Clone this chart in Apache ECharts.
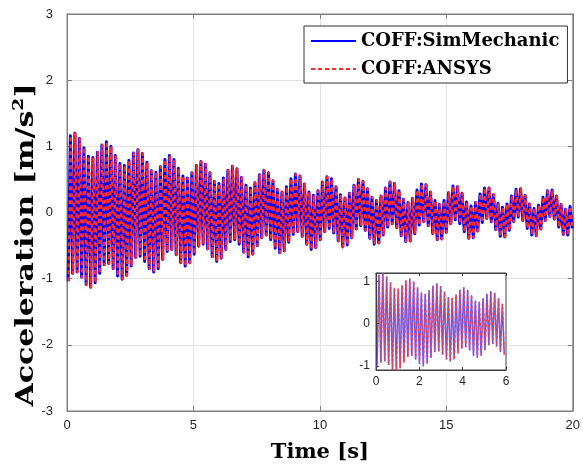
<!DOCTYPE html>
<html>
<head>
<meta charset="utf-8">
<script src="https://cdn.jsdelivr.net/npm/echarts@6/dist/echarts.min.js"></script>
<style>
html,body{margin:0;padding:0;background:#fff;}
#chart{width:583px;height:468px;}
</style>
</head>
<body>
<div id="chart"></div>
<script>
// Successive peak/trough accelerations (m/s^2)
const simPeaks = [
 -1.04, 1.16, -0.92, 1.20, -0.90, 1.12, -0.98, 0.98, -1.09, 0.85, -1.13, 0.83, -1.06, 0.91,
 -0.92, 1.02, -0.79, 1.07, -0.77, 1.00, -0.85, 0.86, -0.96, 0.74, -1.01, 0.71, -0.95, 0.79,
 -0.81, 0.90, -0.68, 0.95, -0.66, 0.89, -0.74, 0.76, -0.85, 0.63, -0.90, 0.61, -0.85, 0.69,
 -0.71, 0.80, -0.59, 0.86, -0.56, 0.80, -0.64, 0.67, -0.76, 0.55, -0.81, 0.52, -0.76, 0.60,
 -0.63, 0.71, -0.51, 0.77, -0.48, 0.73, -0.55, 0.60, -0.67, 0.47, -0.74, 0.44, -0.69, 0.52,
 -0.56, 0.64, -0.44, 0.70, -0.41, 0.66, -0.48, 0.53, -0.60, 0.41, -0.67, 0.37, -0.63, 0.45,
 -0.50, 0.57, -0.38, 0.64, -0.34, 0.60, -0.41, 0.48, -0.54, 0.35, -0.61, 0.31, -0.58, 0.39,
 -0.45, 0.51, -0.33, 0.58, -0.29, 0.55, -0.36, 0.43, -0.48, 0.31, -0.56, 0.26, -0.53, 0.33,
 -0.41, 0.46, -0.29, 0.54, -0.24, 0.51, -0.31, 0.39, -0.43, 0.27, -0.52, 0.22, -0.49, 0.29,
 -0.38, 0.41, -0.25, 0.50, -0.20, 0.47, -0.27, 0.36, -0.39, 0.23, -0.48, 0.18, -0.46, 0.25,
 -0.34, 0.37, -0.22, 0.46, -0.17, 0.44, -0.23, 0.33, -0.35, 0.20, -0.44, 0.15, -0.43, 0.21,
 -0.32, 0.34, -0.19, 0.43, -0.14, 0.42, -0.20, 0.31, -0.32, 0.18, -0.41, 0.12, -0.40, 0.18,
 -0.30, 0.30, -0.17, 0.40, -0.11, 0.39, -0.17, 0.29, -0.29, 0.16, -0.39, 0.10, -0.38, 0.15,
 -0.28, 0.28, -0.15, 0.37, -0.09, 0.37, -0.14, 0.27, -0.26, 0.14, -0.36, 0.08, -0.37, 0.13,
 -0.27, 0.25, -0.14, 0.35, -0.07, 0.36, -0.12, 0.26, -0.24, 0.13, -0.34, 0.06, -0.35, 0.11,
 -0.25, 0.23, -0.12, 0.33, -0.06, 0.34, -0.10, 0.25, -0.22, 0.12, -0.33, 0.05, -0.34, 0.09, -0.24
];
// Sampling grid of the peaks (s)
const firstPeakTime = 0.0445;
const halfPeriod = 0.089;
const ansysTimeLag = 0.015;

const seriesNames = ['COFF:SimMechanic', 'COFF:ANSYS'];
const mainXTicks = [0, 5, 10, 15, 20];
const mainYTicks = [-3, -2, -1, 0, 1, 2, 3];
const insetXTicks = [0, 2, 4, 6];
const insetYTicks = [-1, 0, 1];

const simData = simPeaks.map((v, i) => [firstPeakTime + i * halfPeriod, v]);
const ansysData = simPeaks.map((v, i) => [firstPeakTime + ansysTimeLag + i * halfPeriod, v]);
const insetMax = insetXTicks[insetXTicks.length - 1];
const simInset = simData.filter(p => p[0] <= insetMax);
const ansysInset = ansysData.filter(p => p[0] <= insetMax);

const axisGray = '#7f7f7f';
const tickText = '#262626';
const serif = '"DejaVu Serif", serif';
const sans = '"Liberation Sans", Arial, sans-serif';

const chart = echarts.init(document.getElementById('chart'), null, {renderer: 'canvas'});
chart.setOption({
  animation: false,
  backgroundColor: '#fff',
  grid: [
    {left: 67, right: 8, top: 14, bottom: 57, show: true, borderColor: axisGray, borderWidth: 1, backgroundColor: 'transparent'},
    {left: 376, right: 77, top: 273, bottom: 98, show: true, borderColor: '#404040', borderWidth: 1, backgroundColor: '#fff', z: 10}
  ],
  graphic: [{
    type: 'text',
    x: 27, y: 245,
    rotation: Math.PI / 2,
    scaleX: 1.25,
    z: 30,
    style: {
      text: '{a|Acceleration [m/s}{b|2}{a|]}',
      align: 'center', verticalAlign: 'middle',
      rich: {
        a: {fontFamily: serif, fontWeight: 'bold', fontSize: 24, fill: '#000', lineHeight: 30},
        b: {fontFamily: serif, fontWeight: 'bold', fontSize: 15, fill: '#000', verticalAlign: 'top', lineHeight: 30}
      }
    }
  }],
  legend: {
    data: seriesNames,
    orient: 'vertical',
    left: 304, top: 26,
    padding: [6, 8, 5, 6],
    itemGap: 10,
    itemWidth: 45, itemHeight: 14,
    backgroundColor: '#fff',
    borderColor: '#333', borderWidth: 1,
    borderRadius: 0,
    z: 20,
    itemStyle: {opacity: 0},
    lineStyle: {width: 2},
    textStyle: {fontFamily: serif, fontWeight: 'bold', fontSize: 18, color: '#000'}
  },
  xAxis: [
    {gridIndex: 0, type: 'value', min: 0, max: 20, interval: 5,
     name: 'Time [s]', nameLocation: 'middle', nameGap: 31,
     nameTextStyle: {fontFamily: serif, fontWeight: 'bold', fontSize: 21, color: '#000'},
     axisLine: {show: true, onZero: false, lineStyle: {color: axisGray}},
     axisTick: {show: true, inside: true, length: 5, lineStyle: {color: axisGray}},
     axisLabel: {margin: 8, fontFamily: sans, fontSize: 13, color: tickText, customValues: mainXTicks},
     splitLine: {show: true, lineStyle: {color: '#e4e4e4', width: 1}}},
    {gridIndex: 0, type: 'value', min: 0, max: 20, interval: 5, position: 'top',
     axisLine: {show: true, onZero: false, lineStyle: {color: axisGray}},
     axisTick: {show: true, inside: true, length: 5, lineStyle: {color: axisGray}},
     axisLabel: {show: false}, splitLine: {show: false}},
    {gridIndex: 1, type: 'value', min: 0, max: 6, interval: 2, z: 11,
     axisLine: {show: true, onZero: false, lineStyle: {color: '#404040'}},
     axisTick: {show: true, inside: true, length: 3, lineStyle: {color: '#404040'}},
     axisLabel: {margin: 6, fontFamily: sans, fontSize: 12, color: tickText},
     splitLine: {show: false}},
    {gridIndex: 1, type: 'value', min: 0, max: 6, interval: 2, position: 'top', z: 11,
     axisLine: {show: true, onZero: false, lineStyle: {color: '#404040'}},
     axisTick: {show: true, inside: true, length: 3, lineStyle: {color: '#404040'}},
     axisLabel: {show: false}, splitLine: {show: false}}
  ],
  yAxis: [
    {gridIndex: 0, type: 'value', min: -3, max: 3, interval: 1,
     axisLine: {show: true, onZero: false, lineStyle: {color: axisGray}},
     axisTick: {show: true, inside: true, length: 5, lineStyle: {color: axisGray}},
     axisLabel: {margin: 14, fontFamily: sans, fontSize: 13, color: tickText, customValues: mainYTicks},
     splitLine: {show: true, lineStyle: {color: '#e4e4e4', width: 1}}},
    {gridIndex: 0, type: 'value', min: -3, max: 3, interval: 1, position: 'right',
     axisLine: {show: true, onZero: false, lineStyle: {color: axisGray}},
     axisTick: {show: true, inside: true, length: 5, lineStyle: {color: axisGray}},
     axisLabel: {show: false}, splitLine: {show: false}},
    {gridIndex: 1, type: 'value', min: -1.1, max: 1.2, z: 11,
     axisLine: {show: true, onZero: false, lineStyle: {color: '#404040'}},
     axisTick: {show: true, inside: true, length: 3, customValues: insetYTicks, lineStyle: {color: '#404040'}},
     axisLabel: {margin: 6, fontFamily: sans, fontSize: 12, color: tickText, customValues: insetYTicks},
     splitLine: {show: false}}
  ],
  series: [
    {name: seriesNames[0], type: 'line', xAxisIndex: 0, yAxisIndex: 0, data: simData,
     symbol: 'none', clip: true, z: 3,
     lineStyle: {color: '#0000ff', width: 3, join: 'round'}, itemStyle: {color: '#0000ff'}},
    {name: seriesNames[1], type: 'line', xAxisIndex: 0, yAxisIndex: 0, data: ansysData,
     symbol: 'none', clip: true, z: 4,
     lineStyle: {color: '#ff2a2a', width: 2.4, type: [4, 3], join: 'round'}, itemStyle: {color: '#ff2a2a'}},
    {name: 'inset-sim', type: 'line', xAxisIndex: 2, yAxisIndex: 2, data: simInset,
     symbol: 'none', clip: true, z: 12, silent: true,
     lineStyle: {color: '#3030ff', width: 1.5, opacity: 0.8}},
    {name: 'inset-ansys', type: 'line', xAxisIndex: 2, yAxisIndex: 2, data: ansysInset,
     symbol: 'none', clip: true, z: 13, silent: true,
     lineStyle: {color: '#ff4040', width: 1.3, type: [3, 2], opacity: 0.8}}
  ]
});
</script>
</body>
</html>
